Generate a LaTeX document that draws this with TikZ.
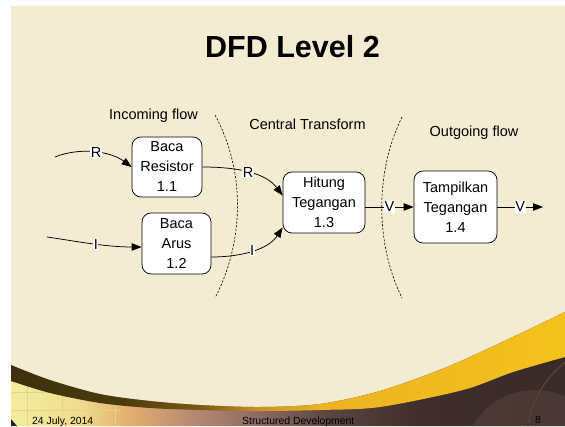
\documentclass[tikz,border=0pt]{standalone}
\usepackage{fontspec}
\setmainfont{Liberation Sans}
\usetikzlibrary{arrows.meta}

% slide palette
\definecolor{slidecream}{HTML}{F3ECD3}
\definecolor{bandA}{HTML}{3D300C}
\definecolor{bandB}{HTML}{4A3A0E}
\definecolor{bandC}{HTML}{7A5A15}
\definecolor{bandD}{HTML}{C89525}
\definecolor{bandE}{HTML}{ECB322}
\definecolor{bandF}{HTML}{F4C21C}
\definecolor{footA}{HTML}{F3EDA0}
\definecolor{footB}{HTML}{F0DC8C}
\definecolor{footC}{HTML}{E3AE6E}
\definecolor{footD}{HTML}{B98A72}
\definecolor{footE}{HTML}{8A6A62}
\definecolor{footF}{HTML}{5A4440}
\definecolor{footG}{HTML}{3F2E2B}
\definecolor{footH}{HTML}{3A2A28}
\definecolor{gridline}{HTML}{E2D488}
\definecolor{glow}{HTML}{54423E}

% swoosh band along the bottom edge (x = 11 .. 565 maps to 25bp .. 75bp)
\pgfdeclarehorizontalshading{bandshade}{100bp}{%
  color(0bp)=(bandA); color(25bp)=(bandA); color(34.8bp)=(bandB);
  color(42.1bp)=(bandC); color(47.5bp)=(bandD); color(52.9bp)=(bandE);
  color(75bp)=(bandF); color(100bp)=(bandF)}
% footer strip below the swoosh
\pgfdeclarehorizontalshading{footshade}{100bp}{%
  color(0bp)=(footA); color(25bp)=(footA); color(31.2bp)=(footB);
  color(35.7bp)=(footC); color(41.2bp)=(footD); color(47.5bp)=(footE);
  color(53.8bp)=(footF); color(61.9bp)=(footG); color(75bp)=(footH);
  color(100bp)=(footH)}

\newcommand{\dfdfont}{\fontsize{14.5}{20}\selectfont}
\newcommand{\footfont}{\fontsize{10.4}{12}\selectfont}

\begin{document}
\begin{tikzpicture}[x=1pt,y=-1pt,
  proc/.style={draw=black, line width=0.75pt, fill=white, rounded corners=9pt,
    align=center, inner sep=0pt, font=\dfdfont},
  flow/.style={line width=0.75pt, -{Triangle[length=10pt,width=7.5pt]}},
  lbl/.style={fill=white, inner sep=0.6pt, font=\dfdfont},
  boundary/.style={line width=0.6pt, dash pattern=on 2.2pt off 1.6pt},
  heading/.style={font=\dfdfont, anchor=base, inner sep=0pt},
  foot/.style={font=\footfont, anchor=base west, inner sep=0pt}]

\useasboundingbox (0,0) rectangle (565,426);
\fill[white] (0,0) rectangle (565,426);
\fill[slidecream] (11,6) rectangle (565,426);

% bottom decoration
\shade[shading=footshade]
  plot[smooth] coordinates {(11,365) (50,380) (100,394) (150,401) (200,405)
    (260,407) (320,404) (380,391) (447,367) (513,337) (565,312)}
  -- (565,426) -- (11,426) -- cycle;
\begin{scope}
  \clip plot[smooth] coordinates {(11,381) (50,393) (100,403) (150,408)
    (200,410) (260,411) (320,410) (380,407) (463,390) (513,372) (565,357)}
    -- (565,426) -- (11,426) -- cycle;
  \draw[gridline, line width=0.8pt] (27,380) -- (27,426) (62,380) -- (62,426)
    (97,380) -- (97,426) (115,380) -- (115,426) (11,392) -- (120,392)
    (11,410) -- (120,410);
  \fill[glow, opacity=0.6] (535,462) circle (72pt);
  \draw[glow, line width=1.5pt] (625,440) circle (98pt);
\end{scope}
\shade[shading=bandshade]
  plot[smooth] coordinates {(11,365) (50,380) (100,394) (150,401) (200,405)
    (260,407) (320,404) (380,391) (447,367) (513,337) (565,312)}
  -- plot[smooth] coordinates {(565,357) (513,372) (463,390) (380,407)
    (320,410) (260,411) (200,410) (150,408) (100,403) (50,393) (11,381)}
  -- cycle;
\fill[black!85] (11,419) -- (17,426) -- (11,426) -- cycle;

% footer texts
\node[foot] (date) at (32,424) {24 July, 2014};
\node[foot] (course) at (242,424) {Structured Development};
\node[foot] (page) at (535,423) {8};

% title and region headings
\node[font=\bfseries\fontsize{30.5}{36}\selectfont, anchor=base, inner sep=0pt]
  (title) at (292.5,57) {DFD Level 2};
\node[heading] (hin) at (153.5,119) {Incoming flow};
\node[heading] (hcen) at (307.5,129) {Central Transform};
\node[heading] (hout) at (474,136.5) {Outgoing flow};

% transform boundaries
\draw[boundary] (215,115) .. controls (245,170) and (245,240) .. (215,298);
\draw[boundary] (402,117) .. controls (375,172) and (375,243) .. (402,298);

% processes
\node[proc, minimum width=70pt, minimum height=60pt] (n11) at (167,167)
  {Baca\\Resistor\\1.1};
\node[proc, minimum width=69pt, minimum height=61pt] (n12) at (176.5,243.5)
  {Baca\\Arus\\1.2};
\node[proc, minimum width=82pt, minimum height=61pt] (n13) at (324,202.5)
  {Hitung\\Tegangan\\1.3};
\node[proc, minimum width=83pt, minimum height=72pt] (n14) at (455.5,207)
  {Tampilkan\\Tegangan\\1.4};

% free ends of the data flows
\coordinate (rin) at (55,157);
\coordinate (iin) at (47,237);
\coordinate (vout) at (543,207);

% data flows
\draw[flow] (rin) .. controls (80,147) and (110,151) ..
  node[lbl, pos=0.52] {R} (n11.west);
\draw[flow] (iin) .. controls (75,241) and (105,247) ..
  node[lbl, pos=0.55] {I} ([yshift=-3.5pt]n12.west);
\draw[flow] (n11.east) .. controls (235,167) and (265,172) ..
  node[lbl, pos=0.5] {R} ([yshift=7pt]n13.west);
\draw[flow] ([yshift=-13.5pt]n12.east) .. controls (240,257) and (268,250) ..
  node[lbl, pos=0.5] {I} ([yshift=-25pt]n13.west);
\draw[flow] (n13.east |- n14.west) -- node[lbl] {V} (n14.west);
\draw[flow] (n14.east) -- node[lbl] {V} (vout);

\end{tikzpicture}
\end{document}
